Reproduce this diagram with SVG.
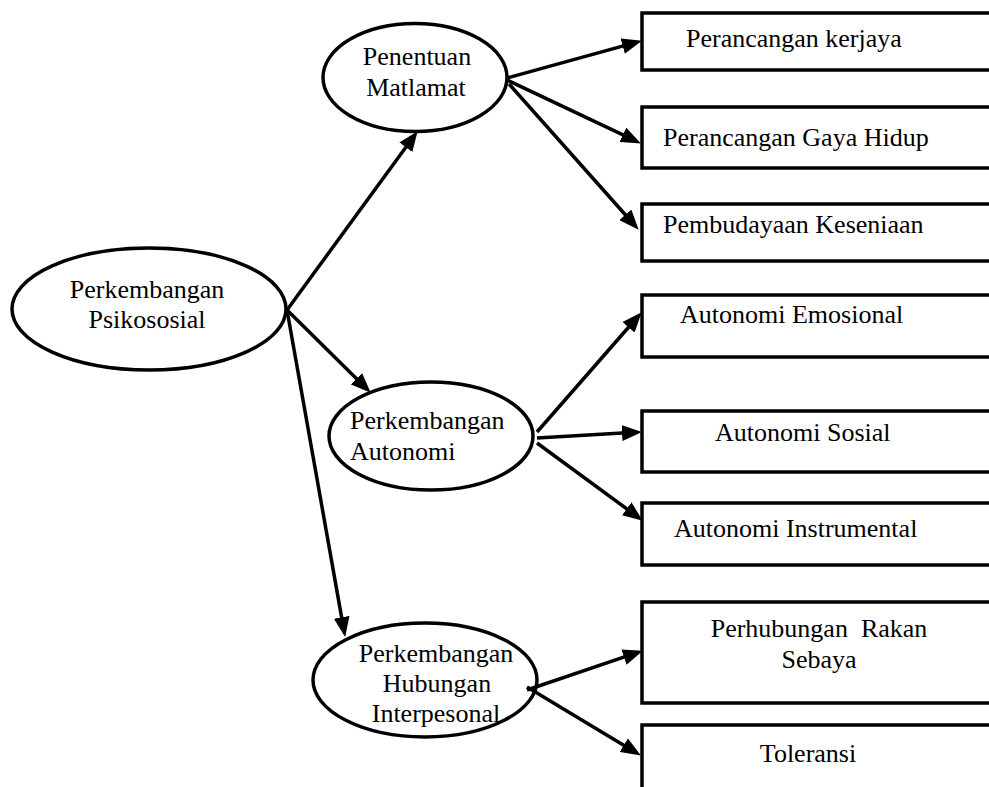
<svg xmlns="http://www.w3.org/2000/svg" width="989" height="787" viewBox="0 0 989 787">
<style>
  .node ellipse, .node rect { fill: #fff; stroke: #000; stroke-width: 3.5; }
  text { font-family: "Liberation Serif", "Times New Roman", serif; font-size: 26px; fill: #000; }
  .c { text-anchor: middle; }
  #connectors line { stroke: #000; stroke-width: 3.5; marker-end: url(#arrow); }
</style>
<defs>
  <marker id="arrow" markerUnits="userSpaceOnUse" markerWidth="20" markerHeight="16" refX="13" refY="8" orient="auto">
    <path d="M0,0 L20,8 L0,16 z" fill="#000"/>
  </marker>
</defs>
<rect width="989" height="787" fill="#fff"/>

<g id="psikososial" class="node">
  <ellipse cx="149" cy="309" rx="137" ry="61"/>
  <text class="c" x="147" y="298">Perkembangan</text>
  <text class="c" x="147" y="328">Psikososial</text>
</g>
<g id="matlamat" class="node">
  <ellipse cx="415" cy="77.5" rx="92" ry="54"/>
  <text class="c" x="417" y="65">Penentuan</text>
  <text class="c" x="416" y="96">Matlamat</text>
</g>
<g id="autonomi" class="node">
  <ellipse cx="431" cy="436" rx="102" ry="54"/>
  <text x="350" y="429">Perkembangan</text>
  <text x="350" y="460">Autonomi</text>
</g>
<g id="interpersonal" class="node">
  <ellipse cx="425" cy="680" rx="112" ry="57"/>
  <text class="c" x="436" y="662">Perkembangan</text>
  <text class="c" x="437" y="692">Hubungan</text>
  <text class="c" x="436" y="722">Interpesonal</text>
</g>

<g id="kerjaya" class="node">
  <rect x="642" y="13" width="400" height="57"/>
  <text x="686" y="47">Perancangan kerjaya</text>
</g>
<g id="gayahidup" class="node">
  <rect x="642" y="107" width="400" height="61"/>
  <text x="663" y="146">Perancangan Gaya Hidup</text>
</g>
<g id="kesenian" class="node">
  <rect x="642" y="204" width="400" height="57"/>
  <text x="663" y="233">Pembudayaan Keseniaan</text>
</g>
<g id="emosional" class="node">
  <rect x="642" y="295" width="400" height="62"/>
  <text x="680" y="323">Autonomi Emosional</text>
</g>
<g id="sosial" class="node">
  <rect x="642" y="411" width="400" height="61"/>
  <text x="715" y="441">Autonomi Sosial</text>
</g>
<g id="instrumental" class="node">
  <rect x="642" y="503" width="400" height="62"/>
  <text x="674" y="537">Autonomi Instrumental</text>
</g>
<g id="rakansebaya" class="node">
  <rect x="642" y="602" width="400" height="101"/>
  <text class="c" x="819" y="637" xml:space="preserve">Perhubungan  Rakan</text>
  <text class="c" x="819" y="668">Sebaya</text>
</g>
<g id="toleransi" class="node">
  <rect x="642" y="725" width="400" height="100"/>
  <text class="c" x="808" y="762">Toleransi</text>
</g>

<g id="connectors">
  <line x1="287" y1="310" x2="413.5" y2="136.8"/>
  <line x1="287" y1="310" x2="365.7" y2="387.8"/>
  <line x1="287" y1="310" x2="343.9" y2="630.1"/>
  <line x1="507" y1="78" x2="635.2" y2="42.6"/>
  <line x1="507" y1="80" x2="634.6" y2="140.4"/>
  <line x1="509" y1="84" x2="634.0" y2="224.5"/>
  <line x1="537" y1="432" x2="637.1" y2="317.5"/>
  <line x1="537" y1="438" x2="635.0" y2="432.3"/>
  <line x1="537" y1="443" x2="637.2" y2="516.5"/>
  <line x1="527" y1="690" x2="636.3" y2="652.9"/>
  <line x1="527" y1="687" x2="634.9" y2="751.9"/>
</g>
</svg>
